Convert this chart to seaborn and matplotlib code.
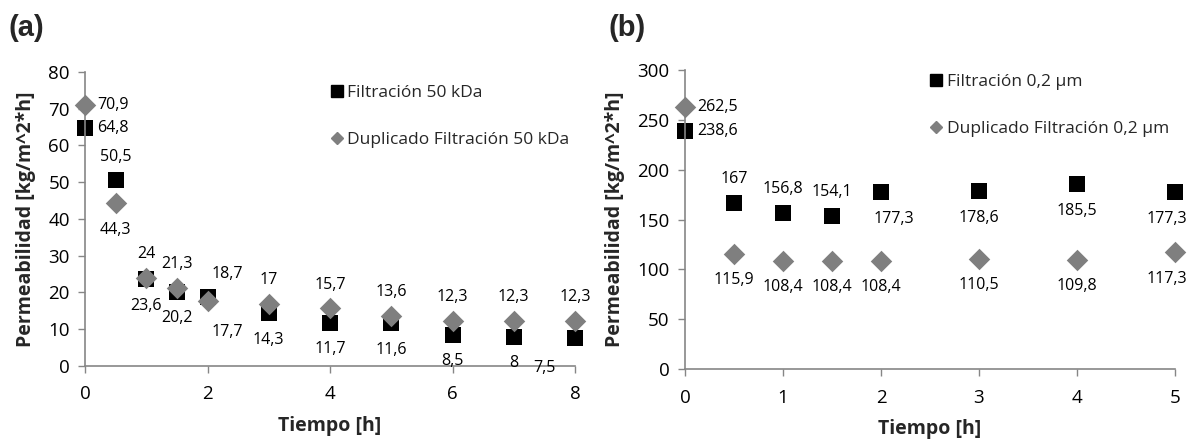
import matplotlib
matplotlib.use("Agg")
import matplotlib.pyplot as plt
import seaborn as sns
import pandas as pd
from matplotlib.lines import Line2D

# ---------------- data ----------------
time_a = [0, 0.5, 1, 1.5, 2, 3, 4, 5, 6, 7, 8]
filt_50 = [64.8, 50.5, 23.6, 20.2, 18.7, 14.3, 11.7, 11.6, 8.5, 8, 7.5]
dup_50 = [70.9, 44.3, 24, 21.3, 17.7, 17, 15.7, 13.6, 12.3, 12.3, 12.3]

time_b = [0, 0.5, 1, 1.5, 2, 3, 4, 5]
filt_02 = [238.6, 167, 156.8, 154.1, 177.3, 178.6, 185.5, 177.3]
dup_02 = [262.5, 115.9, 108.4, 108.4, 108.4, 110.5, 109.8, 117.3]

leg_a = ["Filtración 50 kDa", "Duplicado Filtración 50 kDa"]
leg_b = ["Filtración 0,2 µm", "Duplicado Filtración 0,2 µm"]
xlabel = "Tiempo [h]"
ylabel = "Permeabilidad [kg/m^2*h]"

# label placement (style)
OFF = {"r": (9, 0, "left", "center"), "a": (0, 17, "center", "center"),
       "b": (0, -19, "center", "center"), "ar": (14, 17, "center", "center"),
       "br": (14, -22, "center", "center"), "bl": (-22, -21, "center", "center"),
       "bR": (9, -19, "center", "center"), "bL": (-6, -19, "center", "center")}
pos_fa = ["r", "a", "b", "b", "ar", "b", "b", "b", "b", "b", "bl"]
pos_da = ["r", "b", "a", "a", "br", "a", "a", "a", "a", "a", "a"]
pos_fb = ["r", "a", "a", "a", "bR", "b", "b", "bL"]
pos_db = ["r", "b", "b", "b", "b", "b", "b", "bL"]

sns.set_theme(style="white")
FONT = ["Open Sans", "DejaVu Sans"]
plt.rcParams["font.family"] = FONT

BLACK = "#000000"
GREY = "#7f7f7f"
SPINE = "#868686"

fig = plt.figure(figsize=(11.96, 4.41), dpi=100)
ax_a = fig.add_axes([0.0711, 0.170, 0.4097, 0.667])
ax_b = fig.add_axes([0.5727, 0.163, 0.4097, 0.678])


def fmt(v):
    return f"{v:g}".replace(".", ",")


def panel(ax, t, f, d, pf, pd_, legs, ylim, yticks, xticks, letter, leg_y):
    df = pd.DataFrame({"t": t, "f": f, "d": d})
    sns.scatterplot(data=df, x="t", y="d", ax=ax, marker="D", s=120, color=GREY,
                    edgecolor=GREY, linewidth=0, clip_on=False, zorder=3)
    sns.scatterplot(data=df, x="t", y="f", ax=ax, marker="s", s=120, color=BLACK,
                    edgecolor=BLACK, linewidth=0, clip_on=False, zorder=2)
    for xi, yi, p in zip(t, f, pf):
        dx, dy, ha, va = OFF[p]
        ax.annotate(fmt(yi), (xi, yi), xytext=(dx, dy), textcoords="offset points",
                    ha=ha, va=va, fontsize=11.5, color="black", annotation_clip=False)
    for xi, yi, p in zip(t, d, pd_):
        dx, dy, ha, va = OFF[p]
        ax.annotate(fmt(yi), (xi, yi), xytext=(dx, dy), textcoords="offset points",
                    ha=ha, va=va, fontsize=11.5, color="black", annotation_clip=False)
    ax.set_xlim(0, xticks[-1])
    ax.set_ylim(*ylim)
    ax.set_xticks(xticks)
    ax.set_yticks(yticks)
    ax.tick_params(axis="both", labelsize=13.5, colors="black", length=5, width=1,
                   direction="out", bottom=True, left=True, color=SPINE)
    ax.tick_params(axis="x", pad=9)
    ax.tick_params(axis="y", pad=6)
    for s in ["top", "right"]:
        ax.spines[s].set_visible(False)
    for s in ["left", "bottom"]:
        ax.spines[s].set_color(SPINE)
        ax.spines[s].set_linewidth(1.2)
    ax.set_xlabel(xlabel, fontsize=14, fontweight="bold", labelpad=9)
    ax.set_ylabel(ylabel, fontsize=14, fontweight="bold", labelpad=9)
    ax.grid(False)
    handles = [Line2D([], [], marker="s", color=BLACK, linestyle="none", markersize=9),
               Line2D([], [], marker="D", color=GREY, linestyle="none", markersize=6.5)]
    ax.legend(handles, legs, loc="upper right", bbox_to_anchor=(1.02, leg_y),
              frameon=False, fontsize=12.5, handletextpad=0.2, labelspacing=1.8,
              handlelength=0.8)
    fig.text(ax.get_position().x0 - 0.064, 0.936, letter, fontsize=21,
             fontweight="bold", ha="left", va="center",
             family=["Liberation Sans", "DejaVu Sans"])


panel(ax_a, time_a, filt_50, dup_50, pos_fa, pos_da, leg_a, (0, 80),
      list(range(0, 81, 10)), [0, 2, 4, 6, 8], "(a)", 1.01)
panel(ax_b, time_b, filt_02, dup_02, pos_fb, pos_db, leg_b, (0, 300),
      list(range(0, 301, 50)), [0, 1, 2, 3, 4, 5], "(b)", 1.04)

fig.savefig("out.png", dpi=100)
